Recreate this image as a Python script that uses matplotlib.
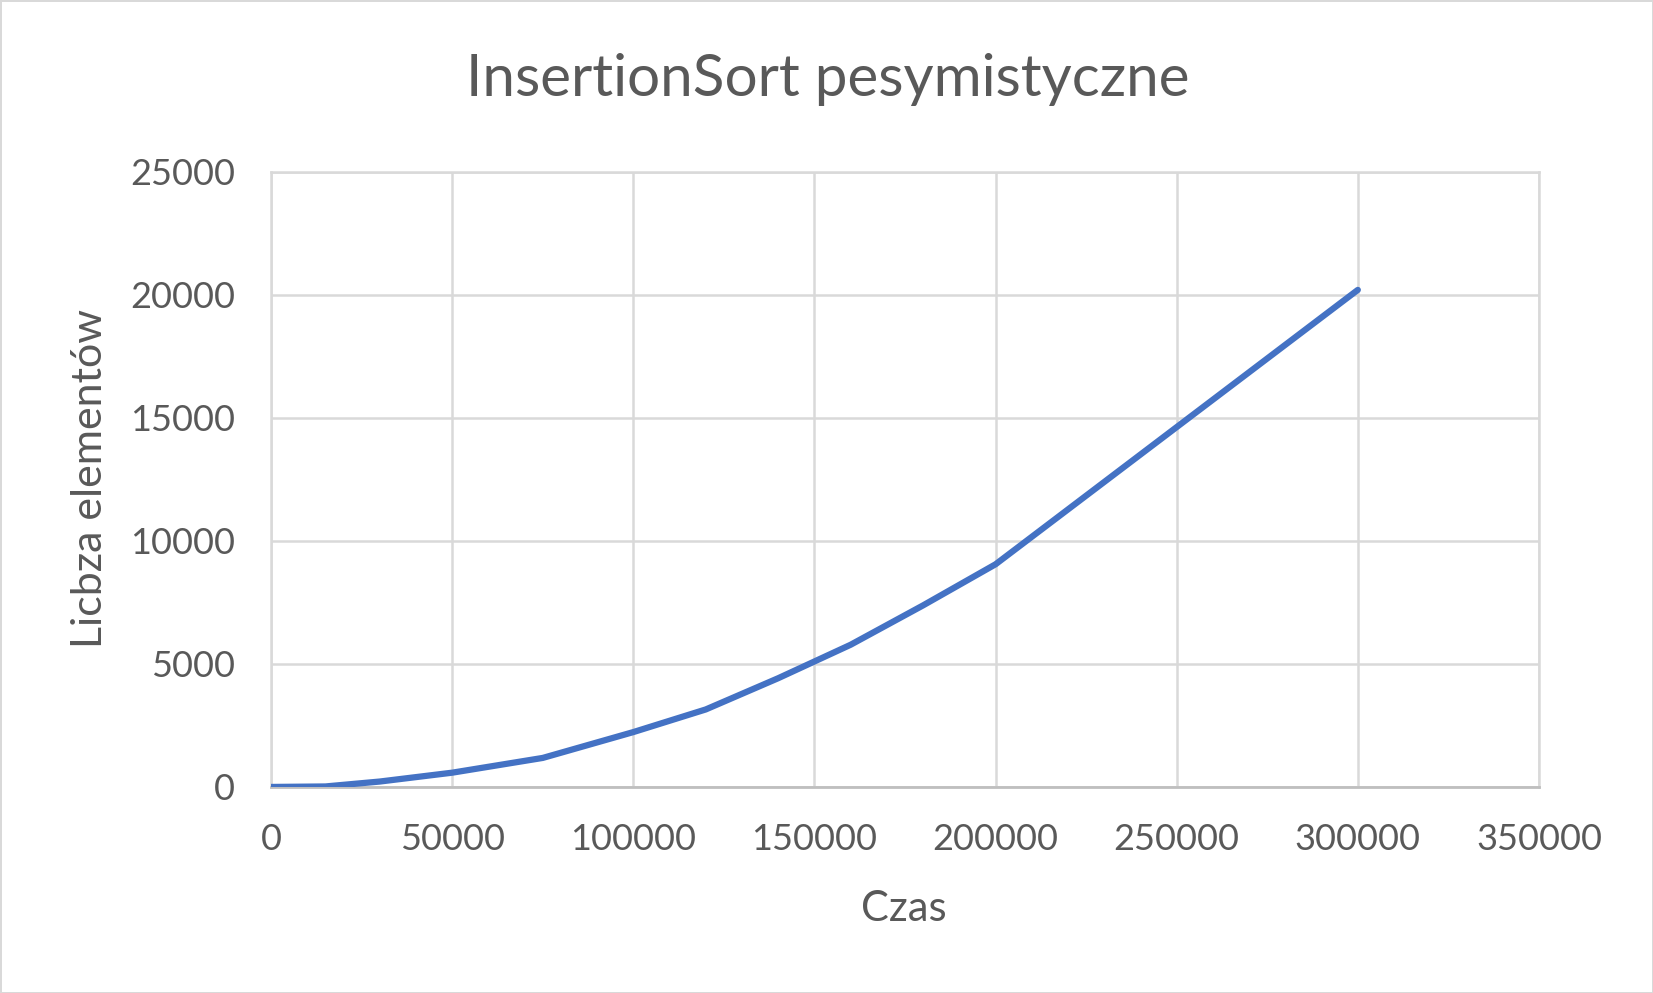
import matplotlib
matplotlib.use('agg')
import matplotlib.pyplot as plt

# liczba elementow vs czas
czas = [0, 15000, 30000, 50000, 75000, 100000, 120000, 140000, 160000, 180000, 200000, 300000]
elementy = [0, 20, 220, 580, 1180, 2230, 3150, 4420, 5780, 7380, 9050, 20200]

xticks = [0, 50000, 100000, 150000, 200000, 250000, 300000, 350000]
yticks = [0, 5000, 10000, 15000, 20000, 25000]

plt.rcParams['font.family'] = ['Lato', 'DejaVu Sans']
txt = '#595959'

fig = plt.figure(figsize=(16.53, 9.93), dpi=100)
fig.patch.set_edgecolor('#D9D9D9')
fig.patch.set_linewidth(2)
ax = fig.add_axes([0.164, 0.2075, 0.931 - 0.164, 0.827 - 0.2075])

ax.plot(czas, elementy, color='#4472C4', lw=4.5, solid_capstyle='round', zorder=3)

ax.set_xlim(0, 350000)
ax.set_ylim(0, 25000)
ax.set_xticks(xticks)
ax.set_yticks(yticks)
ax.set_xticklabels([str(v) for v in xticks])
ax.set_yticklabels([str(v) for v in yticks])
ax.tick_params(length=0, labelsize=26, colors=txt, pad=26)
ax.grid(True, color='#D9D9D9', lw=1.8)
ax.set_axisbelow(True)
for s in ['top', 'right', 'left']:
    ax.spines[s].set_color('#D9D9D9')
    ax.spines[s].set_linewidth(1.8)
ax.spines['bottom'].set_color('#BFBFBF')
ax.spines['bottom'].set_linewidth(2)

fig.text(0.5006, 0.920, 'InsertionSort pesymistyczne', fontsize=42, color=txt,
         ha='center', va='center')
fig.text(0.547, 0.085, 'Czas', fontsize=30, color=txt, ha='center', va='center')
fig.text(0.0544, 0.518, 'Licbza elementów', fontsize=31, color=txt,
         ha='center', va='center', rotation=90)

fig.savefig('out.png', dpi=100)
